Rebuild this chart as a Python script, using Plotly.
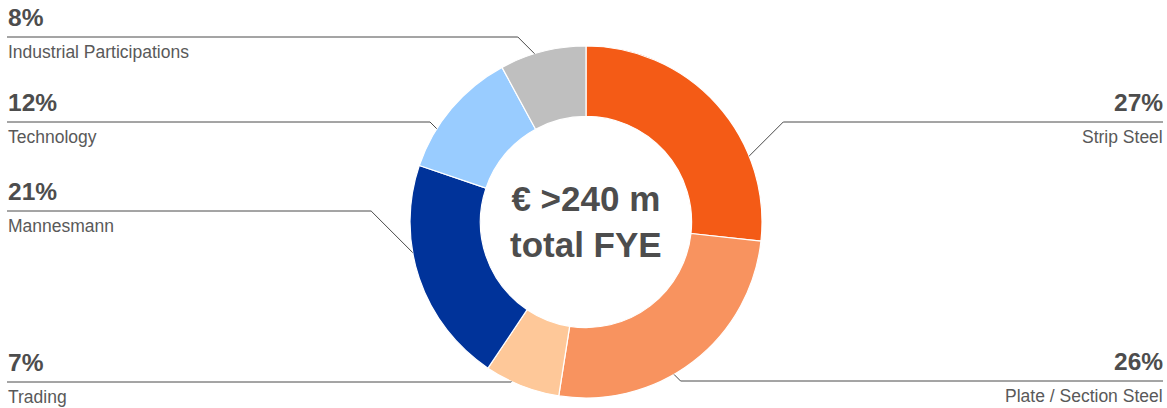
import math
import plotly.graph_objects as go

segments = ['Strip Steel', 'Plate / Section Steel', 'Trading', 'Mannesmann',
            'Technology', 'Industrial Participations']
shares = [27, 26, 7, 21, 12, 8]
colors = ['#F45B16', '#F8935F', '#FEC899', '#00339A', '#99CCFF', '#BFBFBF']
center_lines = ['€ >240 m', 'total FYE']

W, H = 1167, 408
cx, cy, r = 586, 222, 176

# label placement: side, leader line y (px from top), angle where leader meets ring
label_side = ['right', 'right', 'left', 'left', 'left', 'left']
line_y = [122, 381, 382, 211, 122, 37]
leader_angle = [68, 150, 205, 260, 302, 343]


def px(x):
  return x / W


def py(y):
  return 1 - y / H


fig = go.Figure(go.Pie(
  labels=segments,
  values=shares,
  hole=0.6,
  sort=False,
  direction='clockwise',
  rotation=0,
  textinfo='none',
  hoverinfo='label+percent',
  marker=dict(colors=colors, line=dict(color='white', width=1.2)),
  domain=dict(x=[px(cx - r), px(cx + r)], y=[py(cy + r), py(cy - r)])
))

annotations = [dict(
  text='<b>' + '<br>'.join(center_lines) + '</b>',
  x=px(cx), y=py(cy), xref='paper', yref='paper', showarrow=False,
  font=dict(size=35, color='#4D4D4D', family='Liberation Sans, Arial'),
)]
shapes = []

for name, val, side, ly, ang in zip(segments, shares, label_side, line_y, leader_angle):
  a = math.radians(ang)
  ax = cx + r * math.sin(a)
  ay = cy - r * math.cos(a)
  dy = abs(ly - ay)
  if side == 'left':
    ex, x0, tx, anchor = ax - dy, 7, 6, 'left'
  else:
    ex, x0, tx, anchor = ax + dy, 1163, 1165, 'right'
  path = 'M {} {} L {} {} L {} {}'.format(px(x0), py(ly), px(ex), py(ly), px(ax), py(ay))
  shapes.append(dict(type='path', path=path, xref='paper', yref='paper',
                     line=dict(color='#4A4A4A', width=1)))
  annotations.append(dict(
    text='<b>{}%</b>'.format(val), x=px(tx), y=py(ly - 4),
    xref='paper', yref='paper',
    xanchor=anchor, yanchor='bottom', showarrow=False,
    font=dict(size=24.5, color='#4D4D4D', family='Liberation Sans, Arial')))
  annotations.append(dict(
    text=name, x=px(tx), y=py(ly + 3),
    xref='paper', yref='paper',
    xanchor=anchor, yanchor='top', showarrow=False,
    font=dict(size=17.5, color='#595959', family='Liberation Sans, Arial')))

fig.update_layout(
  width=W, height=H,
  margin=dict(l=0, r=0, t=0, b=0),
  paper_bgcolor='white',
  plot_bgcolor='white',
  showlegend=False,
  annotations=annotations,
  shapes=shapes,
)

# drop the default 8px body margin so the figure fills the window exactly
fig.write_html('out.html', config={'displayModeBar': False},
               post_script="document.body.style.margin = '0';")
